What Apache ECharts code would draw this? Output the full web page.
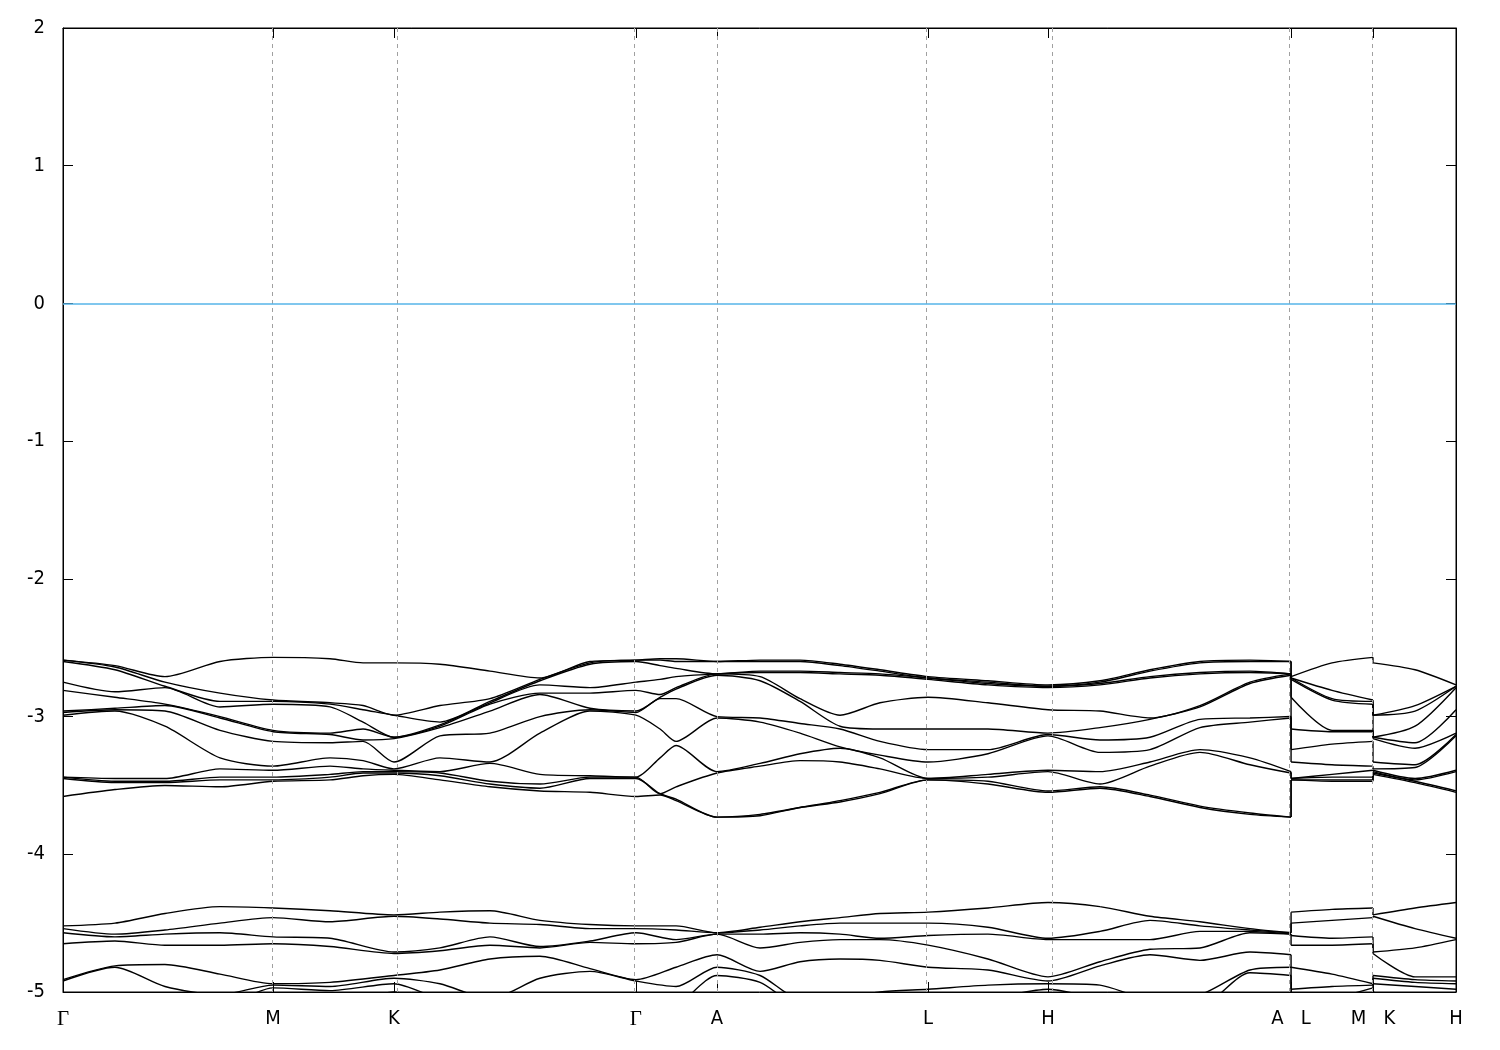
<!DOCTYPE html>
<html><head><meta charset="utf-8">
<script src="https://cdn.jsdelivr.net/npm/echarts@6/dist/echarts.min.js"></script>
<style>html,body{margin:0;padding:0;background:#fff}#c{width:1500px;height:1050px}</style>
</head><body><div id="c"></div>
<script>
// High-symmetry points along the k-path (path distance, normalised)
const symLabels = ['Γ','M','K','Γ','A','L','H','A   L','M   K','H'];
const symPos    = [0, 0.1508, 0.2376, 0.4113, 0.4695, 0.6210, 0.7071, 0.8816, 0.9404, 1.0];
const fermiLevel = 0;

// k samples for the upper band group (duplicate k = discontinuity A|L and M|K)
const kUpper = [0,0.0373,0.0732,0.1127,0.1508,0.1917,0.2154,0.2376,0.2706,0.3065,0.3424,0.3783,0.4113,0.4286,0.4401,0.4695,
  0.5004,0.5291,0.5578,0.5865,0.6210,0.6640,0.7071,0.7444,0.7803,0.8162,0.8521,0.8816,0.8816,0.9110,0.9404,0.9404,0.9706,1.0];
// energies (eV) of the 12 upper bands at each k sample (sorted)
const upperBands = [
  [-2.59,-2.59,-2.60,-2.75,-2.81,-2.96,-2.97,-2.99,-3.44,-3.44,-3.45,-3.58],
  [-2.63,-2.64,-2.66,-2.82,-2.86,-2.94,-2.95,-2.96,-3.45,-3.47,-3.48,-3.53],
  [-2.71,-2.75,-2.78,-2.79,-2.91,-2.92,-2.96,-3.07,-3.45,-3.47,-3.48,-3.50],
  [-2.60,-2.83,-2.89,-2.93,-3.00,-3.01,-3.10,-3.30,-3.38,-3.44,-3.46,-3.51],
  [-2.57,-2.88,-2.89,-2.91,-3.10,-3.11,-3.18,-3.36,-3.39,-3.44,-3.46,-3.47],
  [-2.58,-2.90,-2.91,-2.93,-3.12,-3.13,-3.19,-3.30,-3.36,-3.42,-3.44,-3.46],
  [-2.61,-2.92,-2.95,-3.04,-3.09,-3.17,-3.18,-3.32,-3.38,-3.40,-3.41,-3.43],
  [-2.61,-2.99,-2.99,-3.15,-3.15,-3.16,-3.33,-3.38,-3.39,-3.40,-3.41,-3.42],
  [-2.62,-2.92,-3.04,-3.06,-3.07,-3.08,-3.14,-3.30,-3.40,-3.41,-3.43,-3.46],
  [-2.67,-2.87,-2.89,-2.90,-2.91,-2.96,-3.12,-3.33,-3.34,-3.47,-3.49,-3.51],
  [-2.72,-2.73,-2.74,-2.77,-2.83,-2.84,-3.00,-3.12,-3.42,-3.49,-3.52,-3.54],
  [-2.60,-2.61,-2.62,-2.79,-2.83,-2.94,-2.95,-2.96,-3.43,-3.44,-3.45,-3.55],
  [-2.59,-2.59,-2.60,-2.75,-2.81,-2.96,-2.97,-2.99,-3.44,-3.44,-3.45,-3.58],
  [-2.58,-2.59,-2.63,-2.73,-2.84,-2.86,-2.87,-3.09,-3.30,-3.56,-3.56,-3.57],
  [-2.58,-2.60,-2.65,-2.71,-2.79,-2.80,-2.87,-3.18,-3.21,-3.51,-3.60,-3.61],
  [-2.60,-2.60,-2.69,-2.69,-2.69,-2.70,-3.00,-3.01,-3.40,-3.41,-3.73,-3.73],
  [-2.59,-2.60,-2.67,-2.68,-2.71,-2.74,-3.01,-3.04,-3.34,-3.36,-3.71,-3.72],
  [-2.59,-2.60,-2.67,-2.68,-2.87,-2.89,-3.05,-3.12,-3.27,-3.32,-3.66,-3.66],
  [-2.62,-2.63,-2.68,-2.69,-2.99,-3.07,-3.09,-3.22,-3.23,-3.33,-3.61,-3.62],
  [-2.66,-2.67,-2.69,-2.70,-2.90,-3.09,-3.18,-3.28,-3.30,-3.38,-3.55,-3.56],
  [-2.71,-2.72,-2.72,-2.73,-2.86,-3.09,-3.24,-3.33,-3.45,-3.45,-3.46,-3.46],
  [-2.74,-2.75,-2.76,-2.77,-2.90,-3.09,-3.24,-3.27,-3.42,-3.44,-3.47,-3.49],
  [-2.77,-2.78,-2.78,-2.79,-2.95,-3.12,-3.13,-3.14,-3.39,-3.40,-3.54,-3.55],
  [-2.74,-2.75,-2.76,-2.77,-2.96,-3.08,-3.17,-3.26,-3.40,-3.49,-3.51,-3.52],
  [-2.66,-2.67,-2.71,-2.72,-3.01,-3.02,-3.15,-3.24,-3.33,-3.36,-3.57,-3.58],
  [-2.60,-2.61,-2.68,-2.69,-2.92,-2.93,-3.02,-3.08,-3.24,-3.26,-3.65,-3.66],
  [-2.59,-2.60,-2.67,-2.68,-2.75,-2.76,-3.01,-3.04,-3.30,-3.35,-3.70,-3.71],
  [-2.60,-2.60,-2.69,-2.69,-2.69,-2.70,-3.00,-3.01,-3.40,-3.41,-3.73,-3.73],
  [-2.71,-2.72,-2.72,-2.73,-2.86,-3.09,-3.24,-3.33,-3.45,-3.45,-3.46,-3.46],
  [-2.61,-2.81,-2.87,-2.88,-3.10,-3.11,-3.20,-3.35,-3.42,-3.44,-3.46,-3.47],
  [-2.57,-2.88,-2.89,-2.91,-3.10,-3.11,-3.18,-3.36,-3.39,-3.44,-3.46,-3.47],
  [-2.61,-2.99,-2.99,-3.15,-3.15,-3.16,-3.33,-3.38,-3.39,-3.40,-3.41,-3.42],
  [-2.66,-2.92,-2.96,-3.07,-3.19,-3.23,-3.35,-3.37,-3.45,-3.46,-3.47,-3.48],
  [-2.77,-2.78,-2.78,-2.79,-2.95,-3.12,-3.13,-3.14,-3.39,-3.40,-3.54,-3.55]
];

// k samples for the lower band group
const kLower = [0,0.0373,0.0732,0.1127,0.1508,0.1917,0.2376,0.2706,0.3065,0.3424,0.3783,0.4113,0.4401,0.4695,
  0.5004,0.5291,0.5578,0.5865,0.6210,0.6640,0.7071,0.7444,0.7803,0.8162,0.8521,0.8816,0.8816,0.9110,0.9404,0.9404,0.9706,1.0];
// energies (eV) of the 10 lower bands at each k sample (sorted)
const lowerBands = [
  [-4.52,-4.54,-4.57,-4.65,-4.91,-4.92,-5.15,-5.20,-5.30,-5.40],
  [-4.50,-4.58,-4.60,-4.63,-4.81,-4.82,-5.10,-5.20,-5.30,-5.40],
  [-4.43,-4.55,-4.58,-4.66,-4.80,-4.96,-5.10,-5.20,-5.30,-5.40],
  [-4.38,-4.50,-4.57,-4.66,-4.87,-5.02,-5.10,-5.20,-5.30,-5.40],
  [-4.39,-4.46,-4.60,-4.65,-4.94,-4.95,-4.97,-5.10,-5.20,-5.30],
  [-4.41,-4.49,-4.61,-4.67,-4.93,-4.96,-4.99,-5.10,-5.20,-5.30],
  [-4.44,-4.45,-4.71,-4.72,-4.88,-4.90,-4.94,-5.00,-5.10,-5.20],
  [-4.42,-4.47,-4.68,-4.70,-4.84,-4.94,-5.05,-5.10,-5.20,-5.30],
  [-4.41,-4.50,-4.60,-4.66,-4.76,-5.05,-5.10,-5.15,-5.20,-5.30],
  [-4.48,-4.51,-4.67,-4.68,-4.74,-4.90,-5.10,-5.15,-5.20,-5.30],
  [-4.51,-4.54,-4.63,-4.64,-4.83,-4.85,-5.10,-5.15,-5.20,-5.30],
  [-4.52,-4.54,-4.57,-4.65,-4.91,-4.92,-5.15,-5.20,-5.30,-5.40],
  [-4.52,-4.55,-4.62,-4.64,-4.82,-4.96,-5.10,-5.20,-5.30,-5.40],
  [-4.57,-4.57,-4.58,-4.58,-4.73,-4.82,-4.88,-5.10,-5.20,-5.30],
  [-4.53,-4.55,-4.58,-4.68,-4.85,-4.88,-4.93,-5.10,-5.20,-5.30],
  [-4.49,-4.52,-4.57,-4.64,-4.78,-5.05,-5.10,-5.20,-5.30,-5.40],
  [-4.46,-4.50,-4.58,-4.62,-4.76,-5.05,-5.10,-5.20,-5.30,-5.40],
  [-4.43,-4.50,-4.61,-4.62,-4.77,-5.00,-5.10,-5.20,-5.30,-5.40],
  [-4.42,-4.50,-4.59,-4.66,-4.82,-4.98,-5.10,-5.20,-5.30,-5.40],
  [-4.39,-4.53,-4.58,-4.76,-4.84,-4.95,-5.05,-5.10,-5.20,-5.30],
  [-4.35,-4.61,-4.62,-4.89,-4.92,-4.94,-4.98,-5.10,-5.20,-5.30],
  [-4.38,-4.56,-4.62,-4.78,-4.81,-4.95,-5.05,-5.10,-5.20,-5.30],
  [-4.45,-4.48,-4.62,-4.69,-4.73,-5.05,-5.10,-5.20,-5.30,-5.40],
  [-4.49,-4.52,-4.56,-4.68,-4.77,-5.02,-5.10,-5.20,-5.30,-5.40],
  [-4.54,-4.55,-4.56,-4.57,-4.71,-4.84,-4.86,-5.10,-5.20,-5.30],
  [-4.57,-4.57,-4.58,-4.58,-4.73,-4.82,-4.88,-5.10,-5.20,-5.30],
  [-4.42,-4.50,-4.59,-4.66,-4.82,-4.98,-5.10,-5.20,-5.30,-5.40],
  [-4.40,-4.48,-4.61,-4.66,-4.87,-4.96,-5.05,-5.10,-5.20,-5.30],
  [-4.39,-4.46,-4.60,-4.65,-4.94,-4.95,-4.97,-5.10,-5.20,-5.30],
  [-4.44,-4.45,-4.71,-4.72,-4.88,-4.90,-4.94,-5.00,-5.10,-5.20],
  [-4.39,-4.54,-4.68,-4.89,-4.91,-4.93,-4.96,-5.10,-5.20,-5.30],
  [-4.35,-4.61,-4.62,-4.89,-4.92,-4.94,-4.98,-5.10,-5.20,-5.30]
];

const FONT = '"Liberation Sans Narrow","DejaVu Sans Condensed","Liberation Sans",Arial,sans-serif';
const LINE_W = 1.4;
const series = [];

function addBands(kArr, rows) {
  const nb = rows[0].length;
  const breaks = [];
  for (let i = 1; i < kArr.length; i++) if (kArr[i] === kArr[i - 1]) breaks.push(i);
  const segs = [];
  let start = 0;
  breaks.forEach(b => { segs.push([start, b - 1]); start = b; });
  segs.push([start, kArr.length - 1]);
  for (let b = 0; b < nb; b++) {
    segs.forEach(([s, e]) => {
      const d = [];
      for (let i = s; i <= e; i++) d.push([kArr[i], rows[i][b]]);
      series.push({type: 'line', data: d, smooth: 0.25, showSymbol: false, symbol: 'none',
        lineStyle: {color: '#000', width: LINE_W}, silent: true, clip: true, z: 3});
    });
    breaks.forEach(i => {
      series.push({type: 'line', data: [[kArr[i - 1], rows[i - 1][b]], [kArr[i], rows[i][b]]],
        showSymbol: false, symbol: 'none', lineStyle: {color: '#000', width: LINE_W}, silent: true, clip: true, z: 3});
    });
  }
}
addBands(kUpper, upperBands);
addBands(kLower, lowerBands);

// reference lines: high-symmetry verticals and Fermi level
series.push({
  type: 'line', data: [], silent: true, z: 1,
  markLine: {
    silent: true, symbol: ['none', 'none'], animation: false, label: {show: false},
    data: symPos.slice(1, -1).map(v => ({xAxis: v, lineStyle: {color: '#a0a0a0', type: [4, 4], width: 1}}))
      .concat([{yAxis: fermiLevel, lineStyle: {color: '#56b4e9', type: 'solid', width: 1.5}}])
  }
});

function xLabel(v) {
  let idx = 0, best = 1e9;
  symPos.forEach((p, i) => { const d = Math.abs(p - v); if (d < best) { best = d; idx = i; } });
  const t = symLabels[idx];
  return t === 'Γ' ? '{g|Γ}' : '{s|' + t + '}';
}

const tickStyle = {color: '#000', width: 1};
const option = {
  animation: false,
  backgroundColor: '#fff',
  grid: {left: 63, right: 44, top: 28, bottom: 58, show: true, borderColor: '#000', borderWidth: 1, backgroundColor: 'transparent'},
  xAxis: [
    {type: 'value', min: 0, max: 1, position: 'bottom',
      axisLine: {show: true, onZero: false, lineStyle: tickStyle},
      axisTick: {show: true, inside: true, length: 10, customValues: symPos, lineStyle: tickStyle},
      axisLabel: {show: true, customValues: symPos, formatter: xLabel, margin: 17, hideOverlap: false,
        showMinLabel: true, showMaxLabel: true,
        rich: {g: {fontFamily: '"Liberation Serif","DejaVu Serif",serif', fontSize: 21, color: '#000'},
               s: {fontFamily: FONT, fontSize: 20, color: '#000'}}},
      splitLine: {show: false}},
    {type: 'value', min: 0, max: 1, position: 'top',
      axisLine: {show: true, onZero: false, lineStyle: tickStyle},
      axisTick: {show: true, inside: true, length: 10, customValues: symPos, lineStyle: tickStyle},
      axisLabel: {show: false}, splitLine: {show: false}}
  ],
  yAxis: [
    {type: 'value', min: -5, max: 2, interval: 1, position: 'left',
      axisLine: {show: true, onZero: false, lineStyle: tickStyle},
      axisTick: {show: true, inside: true, length: 10, lineStyle: tickStyle},
      axisLabel: {show: true, margin: 18, fontFamily: FONT, fontSize: 20, color: '#000'},
      splitLine: {show: false}},
    {type: 'value', min: -5, max: 2, interval: 1, position: 'right',
      axisLine: {show: true, onZero: false, lineStyle: tickStyle},
      axisTick: {show: true, inside: true, length: 10, lineStyle: tickStyle},
      axisLabel: {show: false}, splitLine: {show: false}}
  ],
  series: series
};
const chart = echarts.init(document.getElementById('c'), null, {renderer: 'canvas'});
chart.setOption(option);
</script>
</body></html>
